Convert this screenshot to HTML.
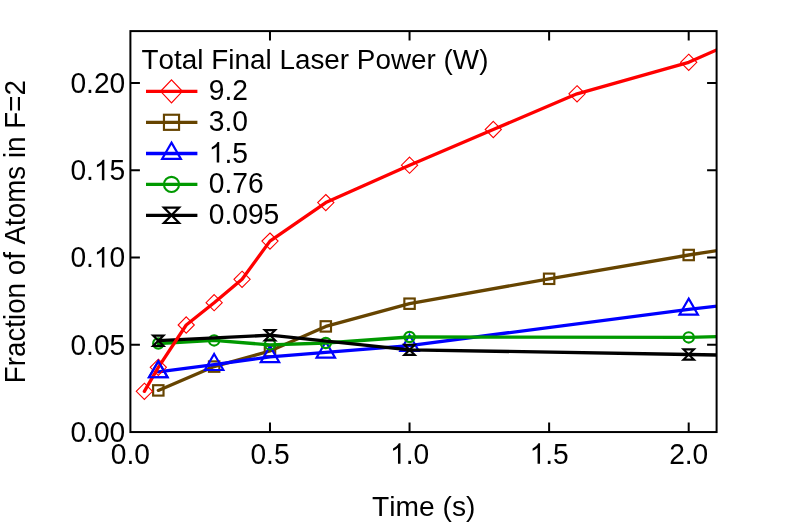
<!DOCTYPE html>
<html><head><meta charset="utf-8"><title>chart</title>
<style>html,body{margin:0;padding:0;background:#fff}svg{display:block;will-change:transform}text{font-kerning:none;font-family:"Liberation Sans",sans-serif;font-size:28px;fill:#000}</style></head><body>
<svg width="789" height="522" viewBox="0 0 789 522">
<rect x="0" y="0" width="789" height="522" fill="#fff"/>
<defs><clipPath id="c"><rect x="130.40" y="31.10" width="586.20" height="400.95"/></clipPath></defs>
<g clip-path="url(#c)"><polyline points="158.31,390.40 214.14,366.60 269.98,351.00 325.80,326.40 409.55,303.70 549.12,278.80 688.70,255.00 744.53,246.40" fill="none" stroke="#664400" stroke-width="3.3" stroke-linejoin="round" stroke-linecap="round"/>
<rect x="153.12" y="385.20" width="10.40" height="10.40" fill="none" stroke="#664400" stroke-width="2.15"/>
<rect x="208.94" y="361.40" width="10.40" height="10.40" fill="none" stroke="#664400" stroke-width="2.15"/>
<rect x="264.78" y="345.80" width="10.40" height="10.40" fill="none" stroke="#664400" stroke-width="2.15"/>
<rect x="320.60" y="321.20" width="10.40" height="10.40" fill="none" stroke="#664400" stroke-width="2.15"/>
<rect x="404.35" y="298.50" width="10.40" height="10.40" fill="none" stroke="#664400" stroke-width="2.15"/>
<rect x="543.92" y="273.60" width="10.40" height="10.40" fill="none" stroke="#664400" stroke-width="2.15"/>
<rect x="683.50" y="249.80" width="10.40" height="10.40" fill="none" stroke="#664400" stroke-width="2.15"/>
<polyline points="158.31,371.90 214.14,364.70 269.98,356.80 325.80,352.30 409.55,345.60 688.70,309.30 744.53,303.10" fill="none" stroke="#0000ff" stroke-width="3.3" stroke-linejoin="round" stroke-linecap="round"/>
<path d="M158.31 361.22L167.56 377.24L149.06 377.24Z" fill="none" stroke="#0000ff" stroke-width="2.15"/>
<path d="M214.14 354.02L223.39 370.04L204.89 370.04Z" fill="none" stroke="#0000ff" stroke-width="2.15"/>
<path d="M269.98 346.12L279.23 362.14L260.73 362.14Z" fill="none" stroke="#0000ff" stroke-width="2.15"/>
<path d="M325.80 341.62L335.05 357.64L316.55 357.64Z" fill="none" stroke="#0000ff" stroke-width="2.15"/>
<path d="M409.55 334.92L418.80 350.94L400.30 350.94Z" fill="none" stroke="#0000ff" stroke-width="2.15"/>
<path d="M688.70 298.62L697.95 314.64L679.45 314.64Z" fill="none" stroke="#0000ff" stroke-width="2.15"/>
<polyline points="158.31,343.50 214.14,340.40 269.98,344.90 325.80,343.00 409.55,337.00 688.70,337.40 744.53,335.80" fill="none" stroke="#009900" stroke-width="3.3" stroke-linejoin="round" stroke-linecap="round"/>
<circle cx="158.31" cy="343.50" r="5.15" fill="none" stroke="#009900" stroke-width="2.2"/>
<circle cx="214.14" cy="340.40" r="5.15" fill="none" stroke="#009900" stroke-width="2.2"/>
<circle cx="269.98" cy="344.40" r="5.15" fill="none" stroke="#009900" stroke-width="2.2"/>
<circle cx="325.80" cy="343.00" r="5.15" fill="none" stroke="#009900" stroke-width="2.2"/>
<circle cx="409.55" cy="337.00" r="5.15" fill="none" stroke="#009900" stroke-width="2.2"/>
<circle cx="688.70" cy="337.40" r="5.15" fill="none" stroke="#009900" stroke-width="2.2"/>
<polyline points="158.31,340.70 269.98,335.20 409.55,349.80 688.70,354.50 744.53,355.50" fill="none" stroke="#000000" stroke-width="3.3" stroke-linejoin="round" stroke-linecap="round"/>
<path d="M153.12 335.60L163.51 335.60L153.12 345.80L163.51 345.80Z" fill="none" stroke="#000000" stroke-width="2.15"/>
<path d="M264.78 330.10L275.18 330.10L264.78 340.30L275.18 340.30Z" fill="none" stroke="#000000" stroke-width="2.15"/>
<path d="M404.35 344.70L414.75 344.70L404.35 354.90L414.75 354.90Z" fill="none" stroke="#000000" stroke-width="2.15"/>
<path d="M683.50 349.40L693.90 349.40L683.50 359.60L693.90 359.60Z" fill="none" stroke="#000000" stroke-width="2.15"/>
<polyline points="144.36,391.30 158.31,367.30 186.23,325.00 214.14,302.70 242.06,279.30 269.98,241.10 325.80,202.60 409.55,165.20 493.29,129.50 577.04,93.80 688.70,62.30 744.53,37.50" fill="none" stroke="#ff0000" stroke-width="3.3" stroke-linejoin="round" stroke-linecap="round"/>
<path d="M144.36 383.20L152.46 391.30L144.36 399.40L136.26 391.30Z" fill="none" stroke="#ff0000" stroke-width="1.1"/>
<path d="M158.31 359.20L166.41 367.30L158.31 375.40L150.22 367.30Z" fill="none" stroke="#ff0000" stroke-width="1.1"/>
<path d="M186.23 316.90L194.33 325.00L186.23 333.10L178.13 325.00Z" fill="none" stroke="#ff0000" stroke-width="1.1"/>
<path d="M214.14 294.60L222.24 302.70L214.14 310.80L206.04 302.70Z" fill="none" stroke="#ff0000" stroke-width="1.1"/>
<path d="M242.06 271.20L250.16 279.30L242.06 287.40L233.96 279.30Z" fill="none" stroke="#ff0000" stroke-width="1.1"/>
<path d="M269.98 233.00L278.08 241.10L269.98 249.20L261.88 241.10Z" fill="none" stroke="#ff0000" stroke-width="1.1"/>
<path d="M325.80 194.50L333.90 202.60L325.80 210.70L317.70 202.60Z" fill="none" stroke="#ff0000" stroke-width="1.1"/>
<path d="M409.55 157.10L417.65 165.20L409.55 173.30L401.45 165.20Z" fill="none" stroke="#ff0000" stroke-width="1.1"/>
<path d="M493.29 121.40L501.39 129.50L493.29 137.60L485.19 129.50Z" fill="none" stroke="#ff0000" stroke-width="1.1"/>
<path d="M577.04 85.70L585.14 93.80L577.04 101.90L568.94 93.80Z" fill="none" stroke="#ff0000" stroke-width="1.1"/>
<path d="M688.70 54.20L696.80 62.30L688.70 70.40L680.60 62.30Z" fill="none" stroke="#ff0000" stroke-width="1.1"/>
<path d="M158.31 361.22L167.56 377.24L149.06 377.24Z" fill="none" stroke="#0000ff" stroke-width="2.15"/></g>
<rect x="130.40" y="31.10" width="586.20" height="400.95" fill="none" stroke="#000" stroke-width="2"/>
<path d="M269.98 432.05V422.55M269.98 31.10V40.60M409.55 432.05V422.55M409.55 31.10V40.60M549.12 432.05V422.55M549.12 31.10V40.60M688.70 432.05V422.55M688.70 31.10V40.60M130.40 344.81H139.90M716.60 344.81H707.10M130.40 257.57H139.90M716.60 257.57H707.10M130.40 170.34H139.90M716.60 170.34H707.10M130.40 83.10H139.90M716.60 83.10H707.10" stroke="#000" stroke-width="2" fill="none"/>
<text transform="translate(130.40,463.70) scale(0.9550,1)" text-anchor="middle" style="font-size:29.5px">0.0</text>
<text transform="translate(269.98,463.70) scale(0.9550,1)" text-anchor="middle" style="font-size:29.5px">0.5</text>
<g transform="translate(409.55,463.70) scale(0.9550,1)"><path transform="translate(-20.505,0) scale(0.014404,-0.013867)" d="M763 0H583V1147Q518 1085 412.5 1023T223 930V1104Q374 1175 487 1276T647 1472H763Z" fill="#000"/><text x="-4.098" y="0" style="font-size:29.5px">.0</text></g>
<g transform="translate(549.12,463.70) scale(0.9550,1)"><path transform="translate(-20.505,0) scale(0.014404,-0.013867)" d="M763 0H583V1147Q518 1085 412.5 1023T223 930V1104Q374 1175 487 1276T647 1472H763Z" fill="#000"/><text x="-4.098" y="0" style="font-size:29.5px">.5</text></g>
<text transform="translate(688.70,463.70) scale(0.9550,1)" text-anchor="middle" style="font-size:29.5px">2.0</text>
<text transform="translate(125.20,441.85) scale(0.9550,1)" text-anchor="end" style="font-size:29.5px">0.00</text>
<text transform="translate(125.20,354.61) scale(0.9550,1)" text-anchor="end" style="font-size:29.5px">0.05</text>
<g transform="translate(125.20,267.38) scale(0.9550,1)"><text x="-57.416" y="0" style="font-size:29.5px">0.</text><path transform="translate(-32.813,0) scale(0.014404,-0.013867)" d="M763 0H583V1147Q518 1085 412.5 1023T223 930V1104Q374 1175 487 1276T647 1472H763Z" fill="#000"/><text x="-16.406" y="0" style="font-size:29.5px">0</text></g>
<g transform="translate(125.20,180.14) scale(0.9550,1)"><text x="-57.416" y="0" style="font-size:29.5px">0.</text><path transform="translate(-32.813,0) scale(0.014404,-0.013867)" d="M763 0H583V1147Q518 1085 412.5 1023T223 930V1104Q374 1175 487 1276T647 1472H763Z" fill="#000"/><text x="-16.406" y="0" style="font-size:29.5px">5</text></g>
<text transform="translate(125.20,92.90) scale(0.9550,1)" text-anchor="end" style="font-size:29.5px">0.20</text>
<text transform="translate(423.75,515.60) scale(0.9970,1)" text-anchor="middle" style="font-size:28.3px">Time (s)</text>
<text transform="translate(24.90,231.70) rotate(-90) scale(0.9427,1)" text-anchor="middle" style="font-size:29.46px">Fraction of Atoms in F=2</text>
<text transform="translate(141.60,68.70) scale(0.9815,1)" text-anchor="start" style="font-size:28.4px">Total Final Laser Power (W)</text>
<path d="M146 91.30H197.4" stroke="#ff0000" stroke-width="3.3" fill="none"/>
<path d="M146 122.30H197.4" stroke="#664400" stroke-width="3.3" fill="none"/>
<path d="M146 153.50H197.4" stroke="#0000ff" stroke-width="3.3" fill="none"/>
<path d="M146 184.40H197.4" stroke="#009900" stroke-width="3.3" fill="none"/>
<path d="M146 215.30H197.4" stroke="#000000" stroke-width="3.3" fill="none"/>
<path d="M171.50 79.80L182.35 91.30L171.50 102.80L160.65 91.30Z" fill="none" stroke="#ff0000" stroke-width="1.2"/>
<rect x="163.95" y="114.75" width="15.10" height="15.10" fill="none" stroke="#664400" stroke-width="2.15"/>
<path d="M171.50 142.65L180.90 158.93L162.10 158.93Z" fill="none" stroke="#0000ff" stroke-width="2.15"/>
<circle cx="171.50" cy="184.40" r="7.55" fill="none" stroke="#009900" stroke-width="2.1"/>
<path d="M163.90 207.60L179.10 207.60L163.90 223.00L179.10 223.00Z" fill="none" stroke="#000000" stroke-width="2.2"/>
<text transform="translate(208.70,100.30) scale(0.9570,1)" text-anchor="start" style="font-size:29.5px">9.2</text>
<text transform="translate(208.70,131.30) scale(0.9570,1)" text-anchor="start" style="font-size:29.5px">3.0</text>
<g transform="translate(208.70,162.50) scale(0.9570,1)"><path transform="translate(0.000,0) scale(0.014404,-0.013867)" d="M763 0H583V1147Q518 1085 412.5 1023T223 930V1104Q374 1175 487 1276T647 1472H763Z" fill="#000"/><text x="16.406" y="0" style="font-size:29.5px">.5</text></g>
<text transform="translate(208.70,193.40) scale(0.9570,1)" text-anchor="start" style="font-size:29.5px">0.76</text>
<text transform="translate(208.70,224.30) scale(0.9570,1)" text-anchor="start" style="font-size:29.5px">0.095</text>
</svg></body></html>
